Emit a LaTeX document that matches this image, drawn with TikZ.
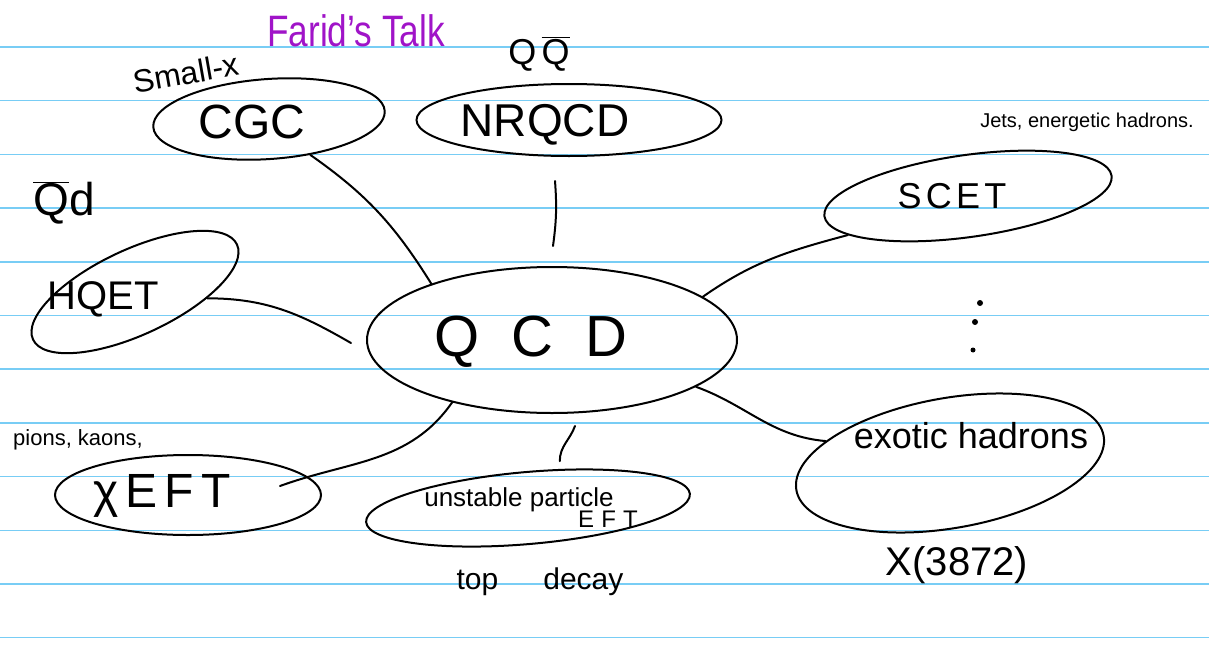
\documentclass[tikz,border=0pt]{standalone}
\usepackage{fontspec}
\setmainfont{Liberation Sans}
\usetikzlibrary{shapes.geometric,calc}
\definecolor{ruled}{RGB}{120,205,245}
\definecolor{talk}{RGB}{160,20,200}
\begin{document}
\begin{tikzpicture}[x=1pt,y=-1pt,
  oval/.style={ellipse, draw, line width=2pt, inner sep=0pt},
  wire/.style={line width=2pt, line cap=round},
  hand/.style={inner sep=0pt, font=\fontsize{#1}{#1}\selectfont},
  dot/.style={circle, fill, inner sep=0pt, minimum size=#1}]
\fill[white] (0,0) rectangle (1209,645);
\useasboundingbox (0,0) rectangle (1209,645);
\foreach \y in {47,100.7,154.4,208.1,261.8,315.5,369.2,422.9,476.6,530.3,584,637.7}
  \draw[ruled, line width=1.5pt] (0,\y) -- (1209,\y);

% ellipses
\node[oval, minimum width=232, minimum height=80, rotate=4] (cgc) at (269,119) {};
\node[oval, minimum width=305, minimum height=72] (nrqcd) at (569,120) {};
\node[oval, minimum width=290, minimum height=82, rotate=8] (scet) at (968,196) {};
\node[oval, minimum width=225, minimum height=85, rotate=25] (hqet) at (135,292) {};
\node[oval, minimum width=370, minimum height=146] (qcd) at (552,340) {};
\node[oval, minimum width=266, minimum height=80] (chi) at (188,495) {};
\node[oval, minimum width=325, minimum height=72, rotate=5] (unst) at (528,508) {};
\node[oval, minimum width=312, minimum height=130, rotate=10] (exo) at (950,463) {};

% texts
\node[hand=44, text=talk] (tfarid) at (356,31) {\scalebox{0.8}[1]{Farid's Talk}};
\node[hand=32, rotate=10] (tsmall) at (186,73) {Small-x};
\node[hand=36] (tqq) at (539,54) {Q\hspace{0.15em}$\overline{\mbox{Q}}$};
\node[hand=20] (tjets) at (1087,122) {Jets, energetic hadrons.};
\node[hand=46] (tqd) at (64,203) {$\overline{\mbox{Q}}$d};
\node[hand=22] (tpions) at (78,440) {pions, kaons,};

\node[hand=48] (tcgc) at (252,122) {CGC};
\node[hand=46] (tnrqcd) at (545,125) {NRQCD};
\node[hand=36] (tscet) at (952,196) {S\hspace{0.12em}C\hspace{0.12em}E\hspace{0.12em}T};
\node[hand=40] (thqet) at (103,299) {HQET};
\node[hand=58] (tqcd) at (531,342) {Q\hspace{0.55em}C\hspace{0.55em}D};
\node[hand=48] (tchi) at (162,496) {χ\hspace{0.15em}E\hspace{0.15em}F\hspace{0.15em}T};
\node[hand=26] (tunst) at (519,500) {unstable particle};
\node[hand=24] (teft) at (608,519) {E\hspace{0.3em}F\hspace{0.3em}T};
\node[hand=30] (ttop) at (540,582) {top\hspace{1.5em}decay};
\node[hand=36] (texo) at (971,436) {exotic hadrons};
\node[hand=40] (tx) at (957,565) {X(3872)};

% dots
\node[dot=6] (d1) at (980,303) {};
\node[dot=6] (d2) at (975,322) {};
\node[dot=5] (d3) at (973,350) {};

% connectors
\draw[wire] (cgc.-45) to[out=-35,in=122] (qcd.155);
\draw[wire] ($(nrqcd.south)+(-14,24)$) to[bend left=6] ($(qcd.north)+(1,-20)$);
\draw[wire] (hqet.-30) to[out=0,in=150] ($(qcd.west)+(-15,3)$);
\draw[wire] (qcd.16) to[out=35,in=195] (scet.190);
\draw[wire] (qcd.-18) to[out=-20,in=175] (exo.160);
\draw[wire] (qcd.212) to[out=-125,in=20] ($(chi.center)+(92,-9)$);
\draw[wire] ($(qcd.south)+(23,12)$) to[out=-110,in=90] ($(unst.north)+(35,-10)$);
\end{tikzpicture}
\end{document}
